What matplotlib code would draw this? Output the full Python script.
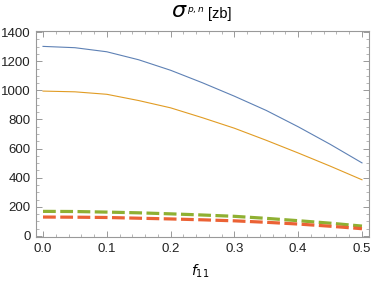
import matplotlib.pyplot as plt
from matplotlib.ticker import MultipleLocator

# data
f11 = [0.0, 0.05, 0.1, 0.15, 0.2, 0.25, 0.3, 0.35, 0.4, 0.45, 0.5]
sig_blue = [1302, 1293, 1265, 1210, 1138, 1052, 960, 862, 750, 630, 502]
sig_orange = [995, 990, 973, 930, 880, 812, 740, 657, 570, 480, 386]
sig_green = [169, 168, 164, 159, 152, 144, 135, 121, 105, 88, 68]
sig_red = [130, 129, 127, 122, 117, 111, 104, 94, 82, 67, 50]

plt.rcParams['font.family'] = ['Liberation Sans', 'DejaVu Sans']
plt.rcParams['mathtext.fontset'] = 'dejavusans'

fig = plt.figure(figsize=(3.71, 2.84), dpi=100)
ax = fig.add_axes([0.097, 0.1655, 0.8976, 0.725])

ax.plot(f11, sig_blue, color='#5E81B5', lw=0.8)
ax.plot(f11, sig_orange, color='#E19C24', lw=0.8)
ax.plot(f11, sig_green, color='#8FB032', lw=2.3, dashes=(4, 1.4), dash_capstyle='butt')
ax.plot(f11, sig_red, color='#EB6235', lw=2.3, dashes=(4, 1.4), dash_capstyle='butt')

ax.set_xlim(-0.011, 0.511)
ax.set_ylim(-7, 1407)

ax.xaxis.set_major_locator(MultipleLocator(0.1))
ax.xaxis.set_minor_locator(MultipleLocator(0.02))
ax.yaxis.set_major_locator(MultipleLocator(200))
ax.yaxis.set_minor_locator(MultipleLocator(50))
ax.set_xticklabels([f'{v:.1f}' for v in ax.get_xticks()])

ax.tick_params(which='both', direction='in', top=True, right=True,
               color='#999999', labelsize=9.5, labelcolor='#222222')
ax.tick_params(which='major', length=4, width=0.7, pad=4)
ax.tick_params(which='minor', length=2, width=0.5)
for s in ax.spines.values():
    s.set_color('#999999')
    s.set_linewidth(0.8)

# axis label and title placed by hand, like the Mathematica layout
fig.text(0.539, 0.03, r'$f_{11}$', fontsize=10, ha='center', va='baseline')
fig.text(0.462, 0.94, r'$\sigma$', fontsize=16, ha='left', va='baseline')
fig.text(0.503, 0.957, r'$p,n$', fontsize=6.5, ha='left', va='baseline')
fig.text(0.56, 0.935, '[zb]', fontsize=10.5, ha='left', va='baseline')

fig.savefig('out.png', dpi=100)
